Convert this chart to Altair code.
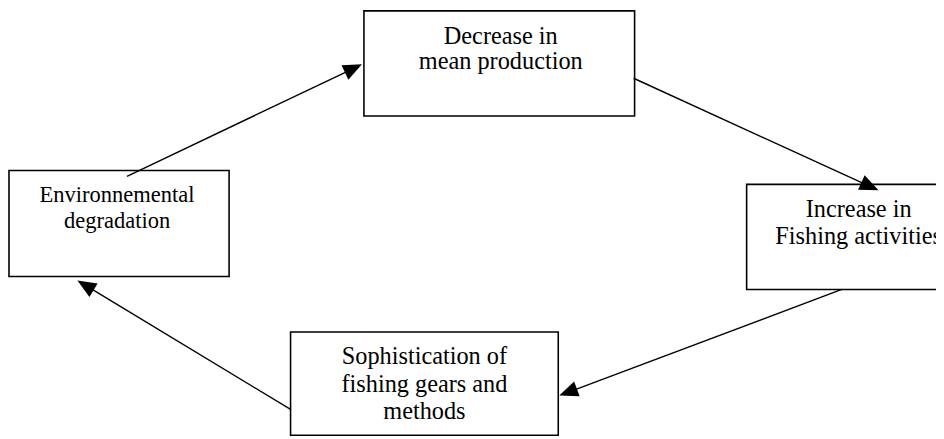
import math
import altair as alt
import pandas as pd

# ---- diagram content (page pixel coordinates) ----
box_names = ["Environnemental degradation", "Decrease in mean production",
             "Increase in Fishing activities", "Sophistication of fishing gears and methods"]
box_x0 = [9, 367, 753, 293]
box_x1 = [231, 640, 979, 563]
box_y0 = [170, 9, 184, 333]
box_y1 = [277, 115, 290, 437]

# text of the left box (set slightly smaller in the reference)
small_text = ["Environnemental", "degradation"]
small_x = [118, 118]
small_y = [195, 221]

line_text = ["Decrease in", "mean production",
             "Increase in", "Fishing activities",
             "Sophistication of", "fishing gears and", "methods"]
line_x = [505, 505, 866, 866, 428, 428, 428]
line_y = [35, 61, 210, 237, 358, 386, 414]

arr_x0 = [128, 639, 849, 293]
arr_y0 = [176, 77, 290, 411]
arr_x1 = [365, 886, 564, 78]
arr_y1 = [63, 190, 397, 281]

HEAD = 19  # arrowhead length in px

boxes = pd.DataFrame({"name": box_names, "x0": box_x0, "x1": box_x1, "y0": box_y0, "y1": box_y1})
labels_small = pd.DataFrame({"t": small_text, "x": small_x, "y": small_y})
labels = pd.DataFrame({"t": line_text, "x": line_x, "y": line_y})

rows = []
for a, b, c, d in zip(arr_x0, arr_y0, arr_x1, arr_y1):
    dx, dy = c - a, d - b
    L = math.hypot(dx, dy)
    ang = math.degrees(math.atan2(dx, -dy)) % 360
    rows.append({"x0": a, "y0": b, "x1": c, "y1": d,
                 "xe": c - dx / L * (HEAD - 4), "ye": d - dy / L * (HEAD - 4),
                 "ang": ang})
arrows = pd.DataFrame(rows)

W, H = 936, 431
xs = alt.Scale(domain=[8, 944], nice=False, zero=False)
ys = alt.Scale(domain=[8, 439], nice=False, zero=False, reverse=True)

rects = alt.Chart(boxes).mark_rect(fill=None, stroke="black", strokeWidth=1.6, clip=True).encode(
    x=alt.X("x0:Q", scale=xs, axis=None), x2="x1:Q",
    y=alt.Y("y0:Q", scale=ys, axis=None), y2="y1:Q",
)

def text_layer(df, size):
    return alt.Chart(df).mark_text(
        font="Liberation Serif", fontSize=size, color="black",
        align="center", baseline="middle", clip=True
    ).encode(
        x=alt.X("x:Q", scale=xs, axis=None),
        y=alt.Y("y:Q", scale=ys, axis=None),
        text="t:N",
    )

texts_small = text_layer(labels_small, 22.7)
texts = text_layer(labels, 24.5)

lines = alt.Chart(arrows).mark_rule(color="black", strokeWidth=1.4).encode(
    x=alt.X("x0:Q", scale=xs, axis=None), x2="xe:Q",
    y=alt.Y("y0:Q", scale=ys, axis=None), y2="ye:Q",
)

heads = alt.Chart(arrows).mark_point(
    shape="M0,0L-0.8,1.9L0.8,1.9Z", filled=True, fill="black", stroke=None, opacity=1, size=400
).encode(
    x=alt.X("x1:Q", scale=xs, axis=None),
    y=alt.Y("y1:Q", scale=ys, axis=None),
    angle=alt.Angle("ang:Q", scale=None),
)

chart = alt.layer(rects, lines, heads, texts_small, texts).properties(
    width=W, height=H, padding=0, autosize=alt.AutoSizeParams(type="none"),
    background="white",
).configure_view(stroke=None)

chart.save("out.html", embed_options={"renderer": "svg", "actions": False})
